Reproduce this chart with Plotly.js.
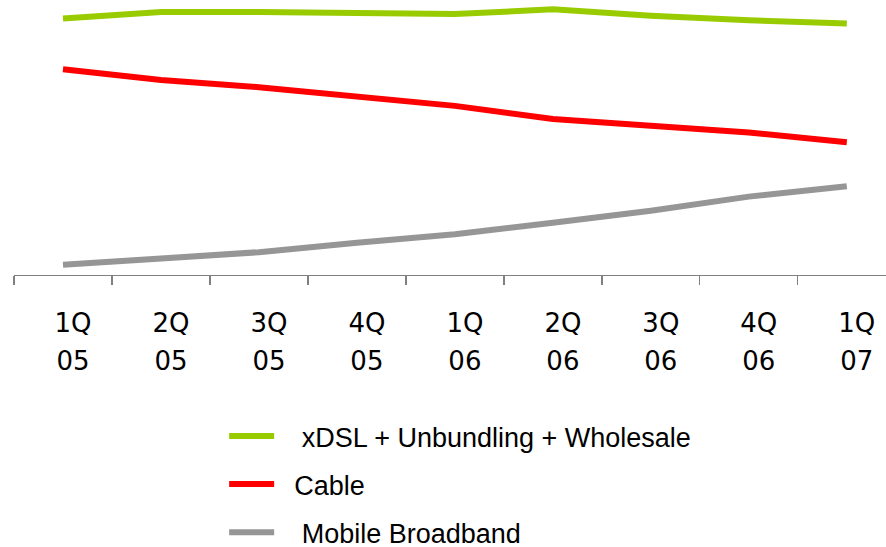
<!DOCTYPE html>
<html>
<head>
<meta charset="utf-8">
<script src="https://cdn.plot.ly/plotly-3.0.1.min.js"></script>
<style>html,body{margin:0;padding:0;background:#fff;}#chart{width:886px;height:547px;}</style>
</head>
<body>
<div id="chart"></div>
<script>
// Categories (quarter + year) and their two-row tick labels
const categories = ["1Q 05","2Q 05","3Q 05","4Q 05","1Q 06","2Q 06","3Q 06","4Q 06","1Q 07"];
const quarterLabels = ["1Q","2Q","3Q","4Q","1Q","2Q","3Q","4Q","1Q"];
const yearLabels = ["05","05","05","05","06","06","06","06","07"];

// Series values (share, %)
const xdsl = [93.3, 95.6, 95.6, 95.5, 94.9, 96.6, 94.3, 92.6, 91.5];
const cable = [74.8, 70.9, 68.3, 64.8, 61.5, 56.7, 54.2, 51.8, 48.3];
const mobile = [3.7, 6.2, 8.3, 11.7, 14.8, 19.0, 23.4, 28.5, 32.3];

const seriesNames = ["xDSL + Unbundling + Wholesale", "Cable", "Mobile Broadband"];
const pad = ["\u00a0\u00a0\u00a0", "\u00a0\u00a0", "\u00a0\u00a0\u00a0"];

const traces = [
  {x: categories, y: xdsl, name: pad[0] + seriesNames[0], type: "scatter", mode: "lines",
   line: {color: "#99CC00", width: 6}, legendgroup: "a"},
  {x: categories, y: cable, name: pad[1] + seriesNames[1], type: "scatter", mode: "lines",
   line: {color: "#FF0000", width: 6}, legendgroup: "b"},
  {x: categories, y: mobile, name: pad[2] + seriesNames[2], type: "scatter", mode: "lines",
   line: {color: "#969696", width: 6}, legendgroup: "c"},
  {x: categories, y: categories.map(() => null), xaxis: "x2", type: "scatter", mode: "lines",
   showlegend: false, hoverinfo: "skip"}
];

const layout = {
  width: 886, height: 547,
  margin: {l: 14, r: 0, t: 0, b: 272, autoexpand: false},
  paper_bgcolor: "#fff", plot_bgcolor: "#fff",
  showlegend: true,
  xaxis: {
    type: "category", categoryorder: "array", categoryarray: categories,
    range: [-0.5, 8.4],
    showline: true, linecolor: "#808080", linewidth: 1.3,
    ticks: "outside", tickson: "boundaries", ticklen: 9, tickcolor: "#808080", tickwidth: 1.3,
    tickmode: "array", tickvals: categories, ticktext: quarterLabels,
    tickfont: {family: "DejaVu Sans", size: 26, color: "#000"},
    ticklabelstandoff: 24, ticklabelshift: 10, automargin: false,
    showgrid: false, zeroline: false, fixedrange: true
  },
  xaxis2: {
    type: "category", categoryorder: "array", categoryarray: categories,
    overlaying: "x", anchor: "y", side: "bottom",
    range: [-0.5, 8.4],
    showline: false, ticks: "",
    tickmode: "array", tickvals: categories, ticktext: yearLabels,
    tickfont: {family: "DejaVu Sans", size: 26, color: "#000"},
    ticklabelstandoff: 68, ticklabelshift: 10, automargin: false,
    showgrid: false, zeroline: false, fixedrange: true
  },
  yaxis: {range: [0, 100], visible: false, showgrid: false, zeroline: false, fixedrange: true},
  legend: {
    x: 0.241, xanchor: "left", y: -0.498, yanchor: "top",
    traceorder: "grouped", tracegroupgap: 10, itemwidth: 45,
    font: {family: "Liberation Sans", size: 27, color: "#000"},
    bgcolor: "rgba(0,0,0,0)"
  }
};

Plotly.newPlot("chart", traces, layout, {displayModeBar: false, staticPlot: true});
</script>
</body>
</html>
